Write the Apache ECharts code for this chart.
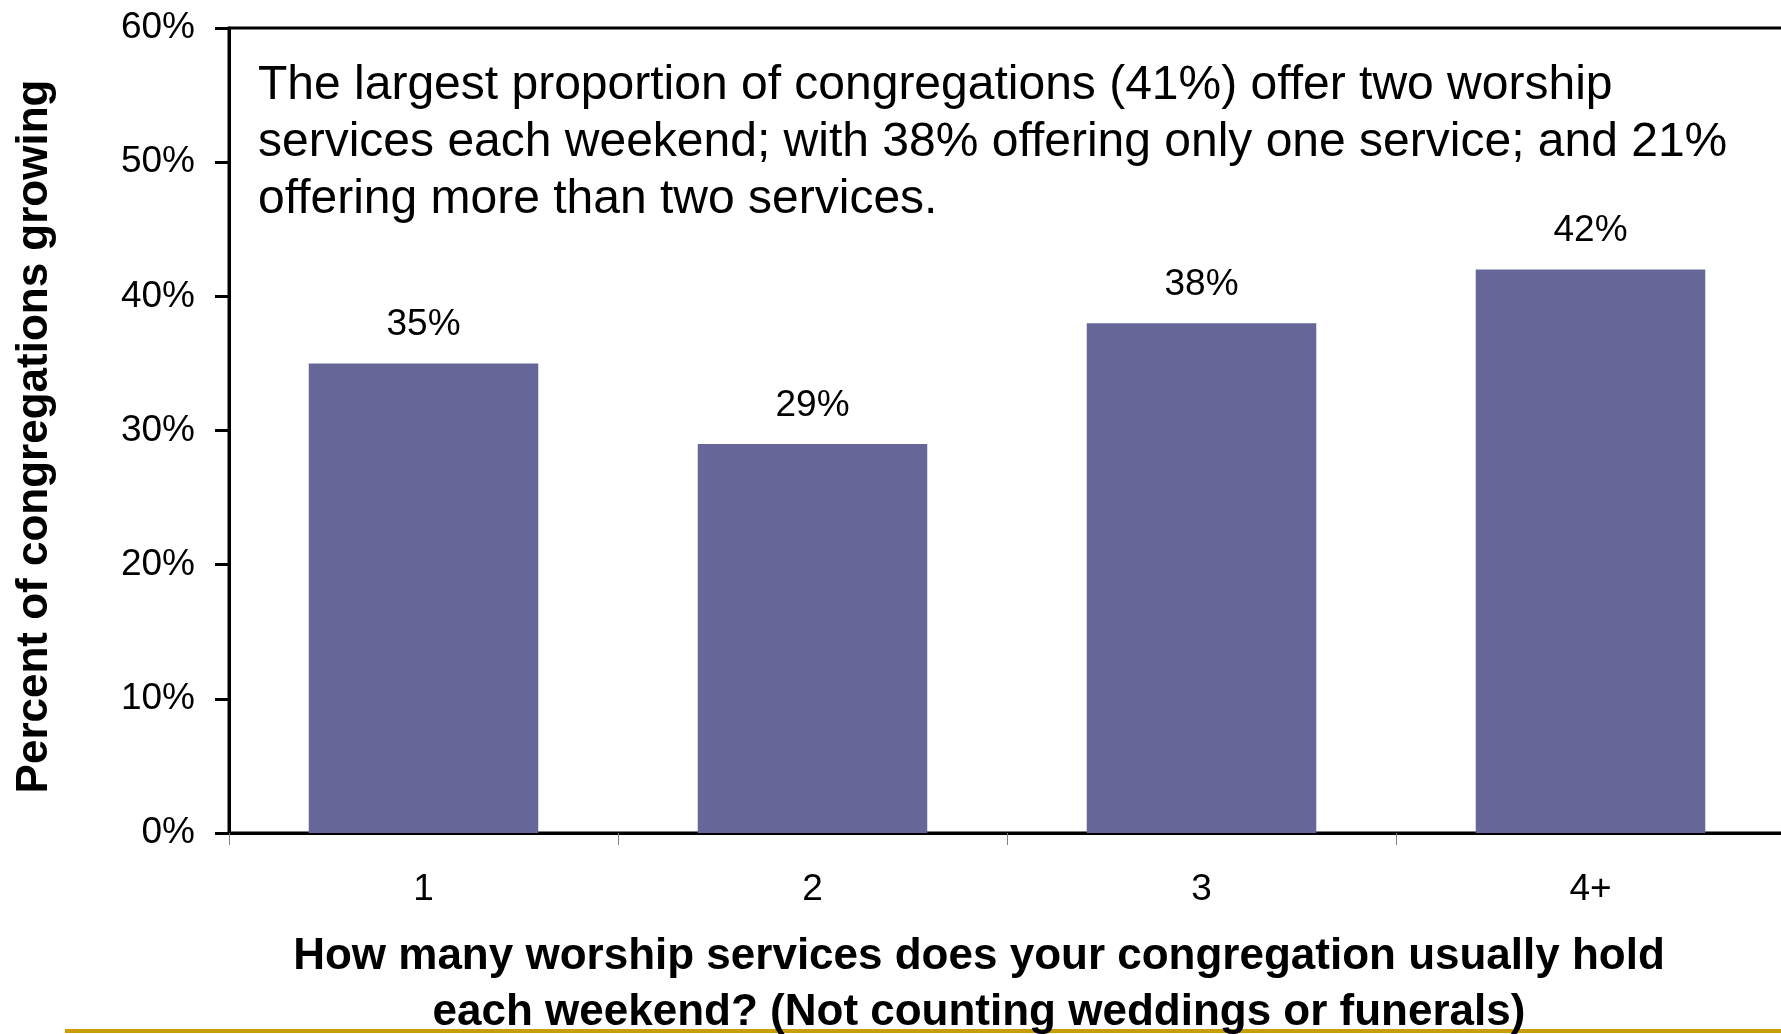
<!DOCTYPE html>
<html>
<head>
    <meta charset="utf-8"/>
    <title>Worship services per weekend</title>
    <script type="text/javascript" src="https://cdn.jsdelivr.net/npm/echarts@6/dist/echarts.min.js"></script>
    <style>
        html, body { margin: 0; padding: 0; background: #fff; }
        #main { width: 1781px; height: 1034px; }
    </style>
</head>
<body>
<div id="main"></div>
<script type="text/javascript">
    // data
    var services = ['1', '2', '3', '4+'];
    var growing = [35, 29, 38, 42];
    var yTicks = [0, 10, 20, 30, 40, 50, 60];

    var note = 'The largest proportion of congregations (41%) offer two worship\n' +
        'services each weekend; with 38% offering only one service; and 21%\n' +
        'offering more than two services.';

    var font = 'Arial, "Liberation Sans", sans-serif';
    var myChart = echarts.init(document.getElementById('main'));

    var option = {
        animation: false,
        backgroundColor: '#fff',
        textStyle: { fontFamily: font },
        grid: {
            left: 229,
            top: 28,
            width: 1556,
            height: 805,
            show: true,
            borderColor: '#000',
            borderWidth: 3,
            containLabel: false,
            outerBoundsMode: 'none'
        },
        xAxis: {
            type: 'category',
            data: services,
            name: 'How many worship services does your congregation usually hold\neach weekend? (Not counting weddings or funerals)',
            nameLocation: 'middle',
            nameGap: 96,
            nameTextStyle: {
                fontFamily: font,
                fontSize: 44,
                fontWeight: 'bold',
                color: '#000',
                lineHeight: 56,
                padding: [0, 56, 0, 0]
            },
            axisLine: { lineStyle: { color: '#000', width: 3 } },
            axisTick: { show: true, length: 12, lineStyle: { color: '#808080', width: 1 } },
            axisLabel: { color: '#000', fontSize: 37, margin: 38, fontFamily: font },
            splitLine: { show: false }
        },
        yAxis: {
            type: 'value',
            min: yTicks[0],
            max: yTicks[yTicks.length - 1],
            interval: 10,
            name: 'Percent of congregations growing',
            nameLocation: 'middle',
            nameGap: 172,
            nameTextStyle: {
                fontFamily: font,
                fontSize: 44,
                fontWeight: 'bold',
                color: '#000',
                padding: [0, 12, 0, 0]
            },
            axisLine: { show: true, lineStyle: { color: '#000', width: 3 } },
            axisTick: { show: true, length: 14, lineStyle: { color: '#000', width: 3 } },
            axisLabel: { color: '#000', fontSize: 37, margin: 34, formatter: '{value}%', fontFamily: font },
            splitLine: { show: false }
        },
        series: [
            {
                type: 'bar',
                data: growing,
                barWidth: '59%',
                itemStyle: { color: '#666699' },
                label: {
                    show: true,
                    position: 'top',
                    distance: 20,
                    formatter: '{c}%',
                    color: '#000',
                    fontSize: 37,
                    fontFamily: font
                }
            }
        ],
        graphic: [
            {
                type: 'text',
                left: 258,
                top: 57,
                style: {
                    text: note,
                    font: '48px ' + font,
                    lineHeight: 57,
                    fill: '#000'
                }
            },
            {
                type: 'rect',
                shape: { x: 65, y: 1029, width: 1716, height: 4 },
                style: { fill: '#c99e00' }
            }
        ]
    };
    myChart.setOption(option);
</script>
</body>
</html>
